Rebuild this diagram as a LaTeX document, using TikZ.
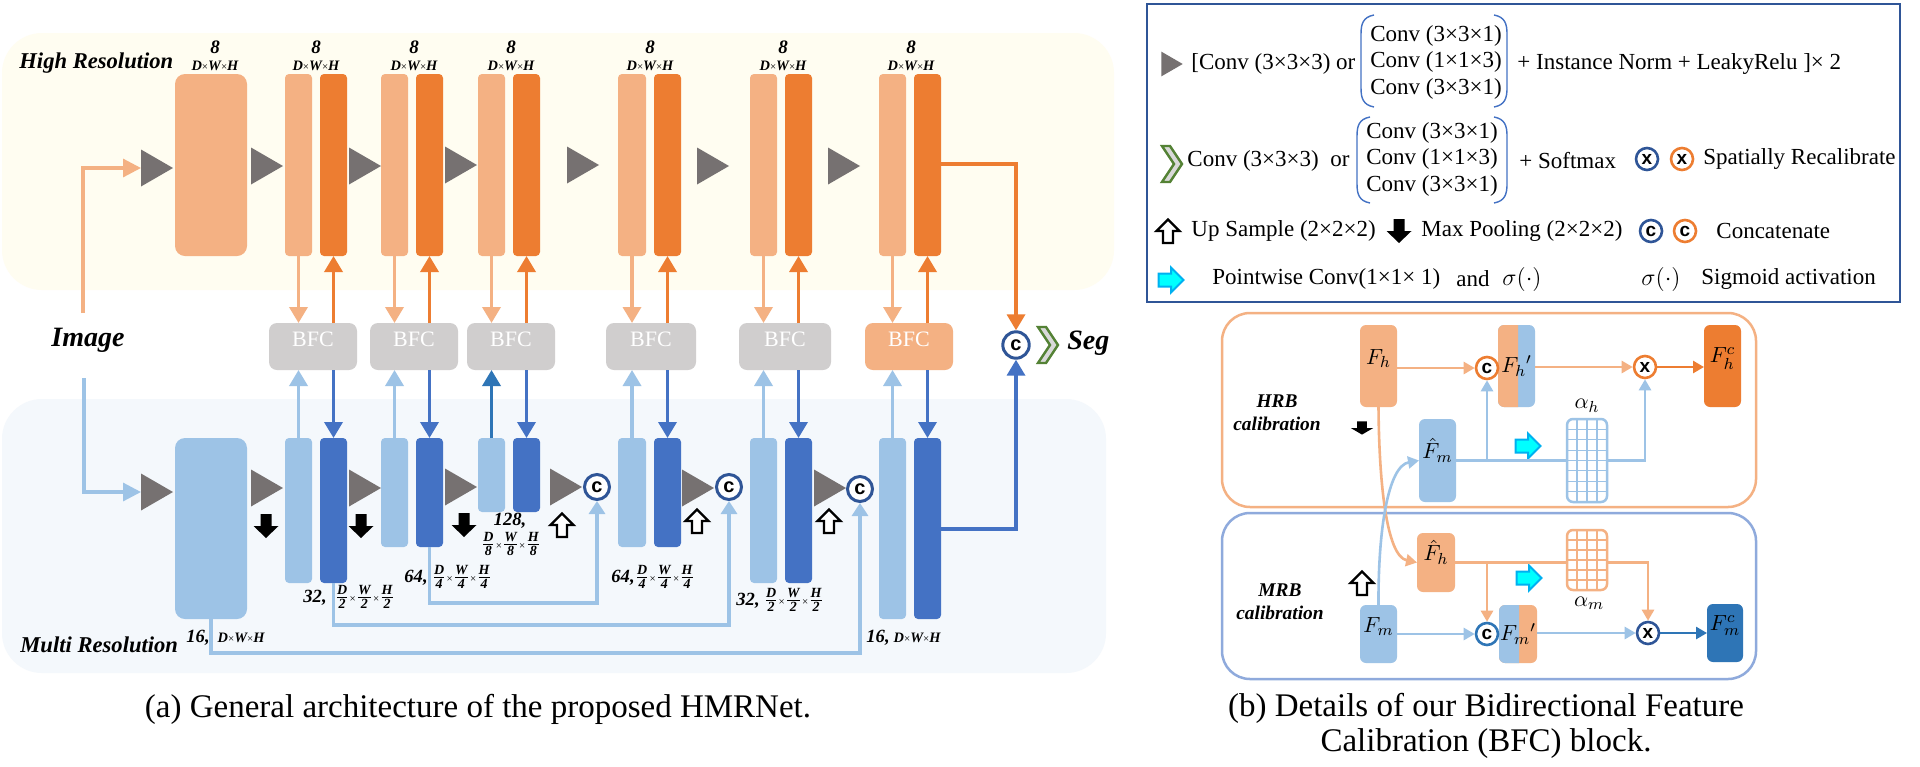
\documentclass[tikz,border=0pt]{standalone}
\usepackage{fontspec}
\setmainfont{Liberation Serif}
\setsansfont{Liberation Sans}
\usetikzlibrary{arrows.meta,fit}
\definecolor{hrbg}{HTML}{FFFDF1}
\definecolor{mrbg}{HTML}{F4F8FC}
\definecolor{lor}{HTML}{F4B183}
\definecolor{dor}{HTML}{ED7D31}
\definecolor{lbl}{HTML}{9DC3E6}
\definecolor{dbl}{HTML}{4472C4}
\definecolor{mbl}{HTML}{2E75B6}
\definecolor{nbl}{HTML}{2F5597}
\definecolor{cgray}{HTML}{767171}
\definecolor{bfcg}{HTML}{D0CECE}
\definecolor{grn}{HTML}{548235}
\definecolor{chevf}{HTML}{D9D9D9}
\definecolor{cyanf}{HTML}{00FFFF}
\definecolor{cyand}{HTML}{00B0F0}
\definecolor{mrbline}{HTML}{8FAADC}
\newcommand{\myfr}[2]{\ensuremath{\frac{\mbox{\fontsize{7}{7.5}\selectfont\bfseries\itshape #1}}{\mbox{\fontsize{7}{7.5}\selectfont\bfseries\itshape #2}}}}
\newcommand{\mytm}{{\fontsize{5.5}{6}\selectfont\upshape\mdseries ×}}
\newcommand{\mydwh}{D\mytm W\mytm H}
\tikzset{
 blk/.style={inner sep=0pt, outer sep=0pt, rounded corners=2pt},
 fbox/.style={inner sep=0pt, outer sep=0pt, rounded corners=3pt, font=\fontsize{11}{13}\selectfont},
 bfcbox/.style={inner sep=0pt, outer sep=0pt, rounded corners=4pt, text=white, font=\fontsize{11}{12}\selectfont},
 harr/.style={line width=1.75pt, -{Triangle[length=8pt,width=9pt]}},
 iarr/.style={line width=1.6pt, -{Triangle[length=9pt,width=9pt]}},
 skipln/.style={draw=lbl, line width=1.6pt, -{Triangle[length=6.5pt,width=8pt]}},
 ccirc/.style={circle, draw=nbl, line width=1.5pt, fill=white, minimum size=12.5pt, inner sep=0pt, font=\sffamily\bfseries\fontsize{10}{10}\selectfont},
 lcirc/.style={circle, line width=1.3pt, fill=white, minimum size=11pt, inner sep=0pt, font=\sffamily\bfseries\fontsize{9.5}{9.5}\selectfont},
 barr/.style={line width=1.3pt, -{Triangle[length=5.5pt,width=6pt]}},
 bln/.style={line width=1.3pt},
 t8/.style={font=\bfseries\itshape\fontsize{9.5}{10}\selectfont, inner sep=0pt},
 tdwh/.style={font=\bfseries\itshape\fontsize{7.2}{8}\selectfont, inner sep=0pt},
 lab/.style={font=\bfseries\itshape\fontsize{9.3}{10}\selectfont, inner sep=0pt, anchor=west},
 leg/.style={font=\fontsize{11.5}{13.25}\selectfont, inner sep=0pt, anchor=west},
 captxt/.style={font=\fontsize{16.5}{17.5}\selectfont, inner sep=0pt, align=center},
 paren/.style={draw=dbl, line width=0.7pt},
 gridln/.style={line width=0.6pt},
 convtri/.pic={\fill[cgray] (-16,-18.5) -- (16,0) -- (-16,18.5) -- cycle;},
 poolarr/.pic={\fill[black] (-5.5,-12) -- (5.5,-12) -- (5.5,0) -- (12.5,0) -- (0,12) -- (-12.5,0) -- (-5.5,0) -- cycle;},
 uparr/.pic={\filldraw[fill=white, draw=black, line width=1.2pt, line join=miter] (-5,12) -- (5,12) -- (5,0) -- (11.5,0) -- (0,-11.5) -- (-11.5,0) -- (-5,0) -- cycle;},
 chev/.pic={\filldraw[fill=chevf, draw=grn, line width=1.2pt] (-10,-18) -- (-2,-18) -- (10,0) -- (-2,18) -- (-10,18) -- (2,0) -- cycle;},
 cyanarr/.pic={\filldraw[fill=cyanf, draw=cyand, line width=1pt] (-12.5,-6.5) -- (0,-6.5) -- (0,-12.5) -- (12.5,0) -- (0,12.5) -- (0,6.5) -- (-12.5,6.5) -- cycle;},
}
\begin{document}
\begin{tikzpicture}[x=0.5pt,y=-0.5pt]
\fill[white] (0,0) rectangle (1920,766);
\useasboundingbox (0,0) rectangle (1920,766);
% ---------- backgrounds
\fill[hrbg, rounded corners=20pt] (2,33) rectangle (1114,290);
\fill[mrbg, rounded corners=20pt] (2,399) rectangle (1106,673);
\node[font=\bfseries\itshape\fontsize{11.3}{13}\selectfont, anchor=west, inner sep=0pt] (hrt) at (19,63) {High Resolution};
\node[font=\bfseries\itshape\fontsize{11.3}{13}\selectfont, anchor=west, inner sep=0pt] (mrt) at (20,645) {Multi Resolution};
% ---------- top labels
\foreach \x [count=\i] in {215,316,414,511,650,783,911} {
  \node[t8] (e\i) at (\x,47) {8};
  \node[tdwh] (d\i) at (\x,66) {\mydwh};
}
% ---------- columns
\node[blk, rounded corners=5pt, fill=lor, fit={(175,74) (247,256)}] (h0) {};
\node[blk, rounded corners=5pt, fill=lbl, fit={(175,438) (247,619)}] (m0) {};
\foreach \i/\a/\b/\c/\d/\e in {1/285/312/320/347/583, 2/381/408/416/443/547, 3/478/505/513/540/512, 4/618/646/654/681/547, 5/750/777/785/812/583, 6/879/906/914/941/619} {
  \node[blk, fill=lor, fit={(\a,74) (\b,256)}] (hl\i) {};
  \node[blk, fill=dor, fit={(\c,74) (\d,256)}] (hd\i) {};
  \node[blk, fill=lbl, fit={(\a,438) (\b,\e)}] (ml\i) {};
  \node[blk, fill=dbl, fit={(\c,438) (\d,\e)}] (md\i) {};
}
% ---------- BFC boxes
\foreach \i/\a/\b in {1/269/357, 2/370/458, 3/467/555, 4/606/696, 5/739/831} {
  \node[bfcbox, fill=bfcg, fit={(\a,323) (\b,370)}] (b\i) {BFC};
}
\node[bfcbox, fill=lor, fit={(865,323) (953,370)}] (b6) {BFC};
% ---------- conv triangles
\foreach \x/\y in {157/168, 267/166, 365/166, 461/165, 583/165, 713/166, 844/166} {\pic at (\x,\y) {convtri};}
\foreach \x/\y in {157/492, 267/488, 365/488, 461/487, 566/487, 698/488, 830/488} {\pic at (\x,\y) {convtri};}
% ---------- pool / upsample arrows
\foreach \x/\y in {266/526, 361/526, 464/525} {\pic at (\x,\y) {poolarr};}
\foreach \x/\y in {562/525, 697/521, 829/521} {\pic at (\x,\y) {uparr};}
% ---------- BFC connections
\foreach \i/\cc in {1/lbl,2/lbl,3/mbl,4/lbl,5/lbl,6/lbl} {
  \draw[harr, draw=lor] (hl\i.south) -- (hl\i.south |- b\i.north);
  \draw[harr, draw=dor] (hd\i.south |- b\i.north) -- (hd\i.south);
  \draw[harr, draw=\cc] (ml\i.north) -- (ml\i.north |- b\i.south);
  \draw[harr, draw=dbl] (md\i.north |- b\i.south) -- (md\i.north);
}
% ---------- image input
\node[font=\bfseries\itshape\fontsize{14}{16}\selectfont, inner sep=0pt] (img) at (88,340) {Image};
\coordinate (ia) at (83,313);
\coordinate (ib) at (84,378);
\coordinate (t1h) at (141,168);
\coordinate (t1m) at (141,492);
\draw[iarr, draw=lor] (ia) |- (t1h);
\draw[iarr, draw=lbl] (ib) |- (t1m);
% ---------- concat circles and skips
\node[ccirc] (c1) at (597,487) {c};
\node[ccirc] (c2) at (729,487) {c};
\node[ccirc] (c3) at (860,489) {c};
\coordinate (s1) at (0,603);
\coordinate (s2) at (0,625);
\coordinate (s3) at (0,653);
\draw[skipln] (md2.south) -- (md2.south |- s1) -| (c1.south);
\draw[skipln] (md1.south) -- (md1.south |- s2) -| (c2.south);
\draw[skipln] (m0.south) -- (m0.south |- s3) -| (c3.south);
% ---------- output
\node[ccirc, minimum size=13.2pt] (segc) at (1016,345) {c};
\pic at (1048,345) {chev};
\node[font=\bfseries\itshape\fontsize{14}{16}\selectfont, anchor=west, inner sep=0pt] (seg) at (1067,343) {Seg};
\coordinate (hy) at (950,164);
\coordinate (my) at (950,529);
\draw[harr, draw=dor] (hd6.east |- hy) -| (segc.north);
\draw[harr, draw=dbl] (md6.east |- my) -| (segc.south);
% ---------- MR labels
\node[lab] (l16a) at (186,638) {16,\hspace{4pt}{\fontsize{7.2}{8}\selectfont\mydwh}};
\node[lab] (l32a) at (303,597) {32,\hspace{4pt}\myfr{D}{2}\mytm\myfr{W}{2}\mytm\myfr{H}{2}};
\node[lab] (l64a) at (404,577) {64,\hspace{2pt}\myfr{D}{4}\mytm\myfr{W}{4}\mytm\myfr{H}{4}};
\node[lab, anchor=center] (l128) at (510,521) {128,};
\node[lab, anchor=center] (l128f) at (511,544) {\myfr{D}{8}\mytm\myfr{W}{8}\mytm\myfr{H}{8}};
\node[lab] (l64b) at (611,577) {64,\myfr{D}{4}\mytm\myfr{W}{4}\mytm\myfr{H}{4}};
\node[lab] (l32b) at (736,600) {32,\hspace{2pt}\myfr{D}{2}\mytm\myfr{W}{2}\mytm\myfr{H}{2}};
\node[lab] (l16b) at (866,638) {16,\hspace{2pt}{\fontsize{7.2}{8}\selectfont\mydwh}};
% ---------- legend
\node[draw=nbl, line width=0.75pt, inner sep=0pt, fit={(1147,4) (1900,302)}] (legend) {};
\pic[scale=0.67] at (1172,64) {convtri};
\node[leg] (r1a) at (1191,64) {[Conv (3×3×3) or};
\draw[paren] (1374,15) .. controls (1363,17) and (1361,24) .. (1361,34) -- (1361,88) .. controls (1361,98) and (1363,105) .. (1374,107);
\draw[paren] (1494,15) .. controls (1505,17) and (1507,24) .. (1507,34) -- (1507,88) .. controls (1507,98) and (1505,105) .. (1494,107);
\node[leg, anchor=center, align=center] (r1b) at (1436,62) {Conv (3×3×1)\\Conv (1×1×3)\\Conv (3×3×1)};
\node[leg] (r1c) at (1517,64) {+ Instance Norm + LeakyRelu ]× 2};
\pic at (1172,164) {chev};
\node[leg] (r2a) at (1187,161) {Conv (3×3×3)\ \ or};
\draw[paren] (1370,117) .. controls (1359,119) and (1357,126) .. (1357,136) -- (1357,184) .. controls (1357,194) and (1359,201) .. (1370,203);
\draw[paren] (1494,117) .. controls (1505,119) and (1507,126) .. (1507,136) -- (1507,184) .. controls (1507,194) and (1505,201) .. (1494,203);
\node[leg, anchor=center, align=center] (r2b) at (1432,159) {Conv (3×3×1)\\Conv (1×1×3)\\Conv (3×3×1)};
\node[leg] (r2c) at (1519,161) {+ Softmax};
\node[lcirc, draw=nbl] (lx1) at (1647,159) {x};
\node[lcirc, draw=dor] (lx2) at (1682,159) {x};
\node[leg] (r2d) at (1703,159) {Spatially Recalibrate};
\pic at (1168,231) {uparr};
\node[leg] (r3a) at (1191,231) {Up Sample (2×2×2)};
\pic at (1399,231) {poolarr};
\node[leg] (r3b) at (1421,231) {Max Pooling (2×2×2)};
\node[lcirc, draw=nbl] (lc1) at (1651,231) {c};
\node[lcirc, draw=dor] (lc2) at (1685,231) {c};
\node[leg] (r3c) at (1716,231) {Concatenate};
\pic at (1171,280) {cyanarr};
\node[leg] (r4a) at (1212,279) {Pointwise Conv(1×1× 1)};
\node[leg] (r4b) at (1456,279) {and};
\node[leg, font=\fontsize{13}{14}\selectfont] (r4c) at (1502,279) {$\sigma(\cdot)$};
\node[leg, font=\fontsize{13}{14}\selectfont] (r4d) at (1641,279) {$\sigma(\cdot)$};
\node[leg] (r4e) at (1701,279) {Sigmoid activation};
% ---------- BFC detail panels
\node[draw=lor, line width=1.25pt, rounded corners=14pt, inner sep=0pt, fit={(1222,313) (1756,507)}] (hrbp) {};
\node[draw=mrbline, line width=1.25pt, rounded corners=14pt, inner sep=0pt, fit={(1222,513) (1756,679)}] (mrbp) {};
\node[font=\bfseries\itshape\fontsize{9.7}{11.5}\selectfont, align=center, inner sep=0pt] (hrbt) at (1277,413) {HRB\\calibration};
\node[font=\bfseries\itshape\fontsize{9.7}{11.5}\selectfont, align=center, inner sep=0pt] (mrbt) at (1280,602) {MRB\\calibration};
\pic[xscale=0.9, yscale=0.55] at (1362,428) {poolarr};
\pic at (1362,583) {uparr};
\pic at (1528,446) {cyanarr};
\pic at (1529,578) {cyanarr};
% boxes
\node[fbox, fill=lor, fit={(1360,325) (1397,407)}] (Fh) {$F_h$};
\node[fbox, fill=lbl, fit={(1419,419) (1456,502)}] (Fmh) {$\hat{F}_m$};
\node[fbox, fill=lbl, fit={(1498,325) (1535,407)}] (Fhp) {};
\begin{scope}
\clip (1498,325) rectangle (1518,407);
\fill[lor, rounded corners=3pt] (1498,325) rectangle (1535,407);
\end{scope}
\node[font=\fontsize{11}{13}\selectfont, inner sep=0pt] (Fhpt) at (Fhp.center) {$F_h{}'$};
\node[fbox, fill=dor, fit={(1704,325) (1741,407)}] (Fhc) {$F_h^c$};
\node[fbox, fill=lor, fit={(1417,533) (1455,592)}] (Fhh) {$\hat{F}_h$};
\node[fbox, fill=lbl, fit={(1360,605) (1397,663)}] (Fm) {$F_m$};
\node[fbox, fill=lor, fit={(1499,605) (1537,663)}] (Fmp) {};
\begin{scope}
\clip (1499,605) rectangle (1519,663);
\fill[lbl, rounded corners=3pt] (1499,605) rectangle (1537,663);
\end{scope}
\node[font=\fontsize{11}{13}\selectfont, inner sep=0pt] (Fmpt) at (Fmp.center) {$F_m{}'$};
\node[fbox, fill=mbl, fit={(1707,604) (1743,662)}] (Fmc) {$F_m^c$};
% attention grids
\node[draw=lbl, line width=1.25pt, fill=white, rounded corners=3pt, inner sep=0pt, fit={(1567,419) (1607,502)}] (ah) {};
\foreach \x in {1577,1587,1597} \draw[gridln, lbl] (\x,419) -- (\x,502);
\foreach \k in {1,...,7} \draw[gridln, lbl] (1567,{419+10.375*\k}) -- (1607,{419+10.375*\k});
\node[draw=lor, line width=1.25pt, fill=white, rounded corners=3pt, inner sep=0pt, fit={(1567,530) (1607,590)}] (am) {};
\foreach \x in {1577,1587,1597} \draw[gridln, lor] (\x,530) -- (\x,590);
\foreach \k in {1,...,5} \draw[gridln, lor] (1567,{530+10*\k}) -- (1607,{530+10*\k});
\node[font=\fontsize{11}{13}\selectfont, inner sep=0pt] (lah) at (1587,406) {$\alpha_h$};
\node[font=\fontsize{11}{13}\selectfont, inner sep=0pt] (lam) at (1589,603) {$\alpha_m$};
% circles
\node[lcirc, draw=dor] (ch) at (1487,368) {c};
\node[lcirc, draw=dor] (xh) at (1645,367) {x};
\node[lcirc, draw=mbl] (cm) at (1487,634) {c};
\node[lcirc, draw=nbl] (xm) at (1648,633) {x};
% connectors
\draw[barr, draw=lor] (Fh.east |- ch) -- (ch.west);
\draw[bln, draw=lbl] (Fmh.east) -- (ah.west |- Fmh.east);
\draw[barr, draw=lbl] (ch.south |- Fmh.east) -- (ch.south);
\draw[barr, draw=lbl] (ah.east |- Fmh.east) -| (xh.south);
\draw[barr, draw=lor] (Fhp.east |- xh) -- (xh.west);
\draw[barr, draw=dor] (xh.east) -- (Fhc.west |- xh);
\draw[bln, draw=lor] (Fhh.east) -- (am.west |- Fhh.east);
\draw[barr, draw=lor] (cm.north |- Fhh.east) -- (cm.north);
\draw[barr, draw=lor] (am.east |- Fhh.east) -| (xm.north);
\draw[barr, draw=lbl] (Fm.east |- cm) -- (cm.west);
\draw[barr, draw=lbl] (Fmp.east |- xm) -- (xm.west);
\draw[barr, draw=mbl] (xm.east) -- (Fmc.west |- xm);
\draw[barr, draw=lor] (Fh.south) .. controls (1379,480) and (1386,556) .. (Fhh.west);
\draw[barr, draw=lbl] (Fm.north) .. controls (1378,530) and (1388,466) .. (Fmh.west);
% ---------- captions
\node[captxt] (capa) at (478,709) {(a) General architecture of the proposed HMRNet.};
\node[captxt] (capb) at (1486,726) {(b) Details of our Bidirectional Feature\\Calibration (BFC) block.};
\end{tikzpicture}
\end{document}
